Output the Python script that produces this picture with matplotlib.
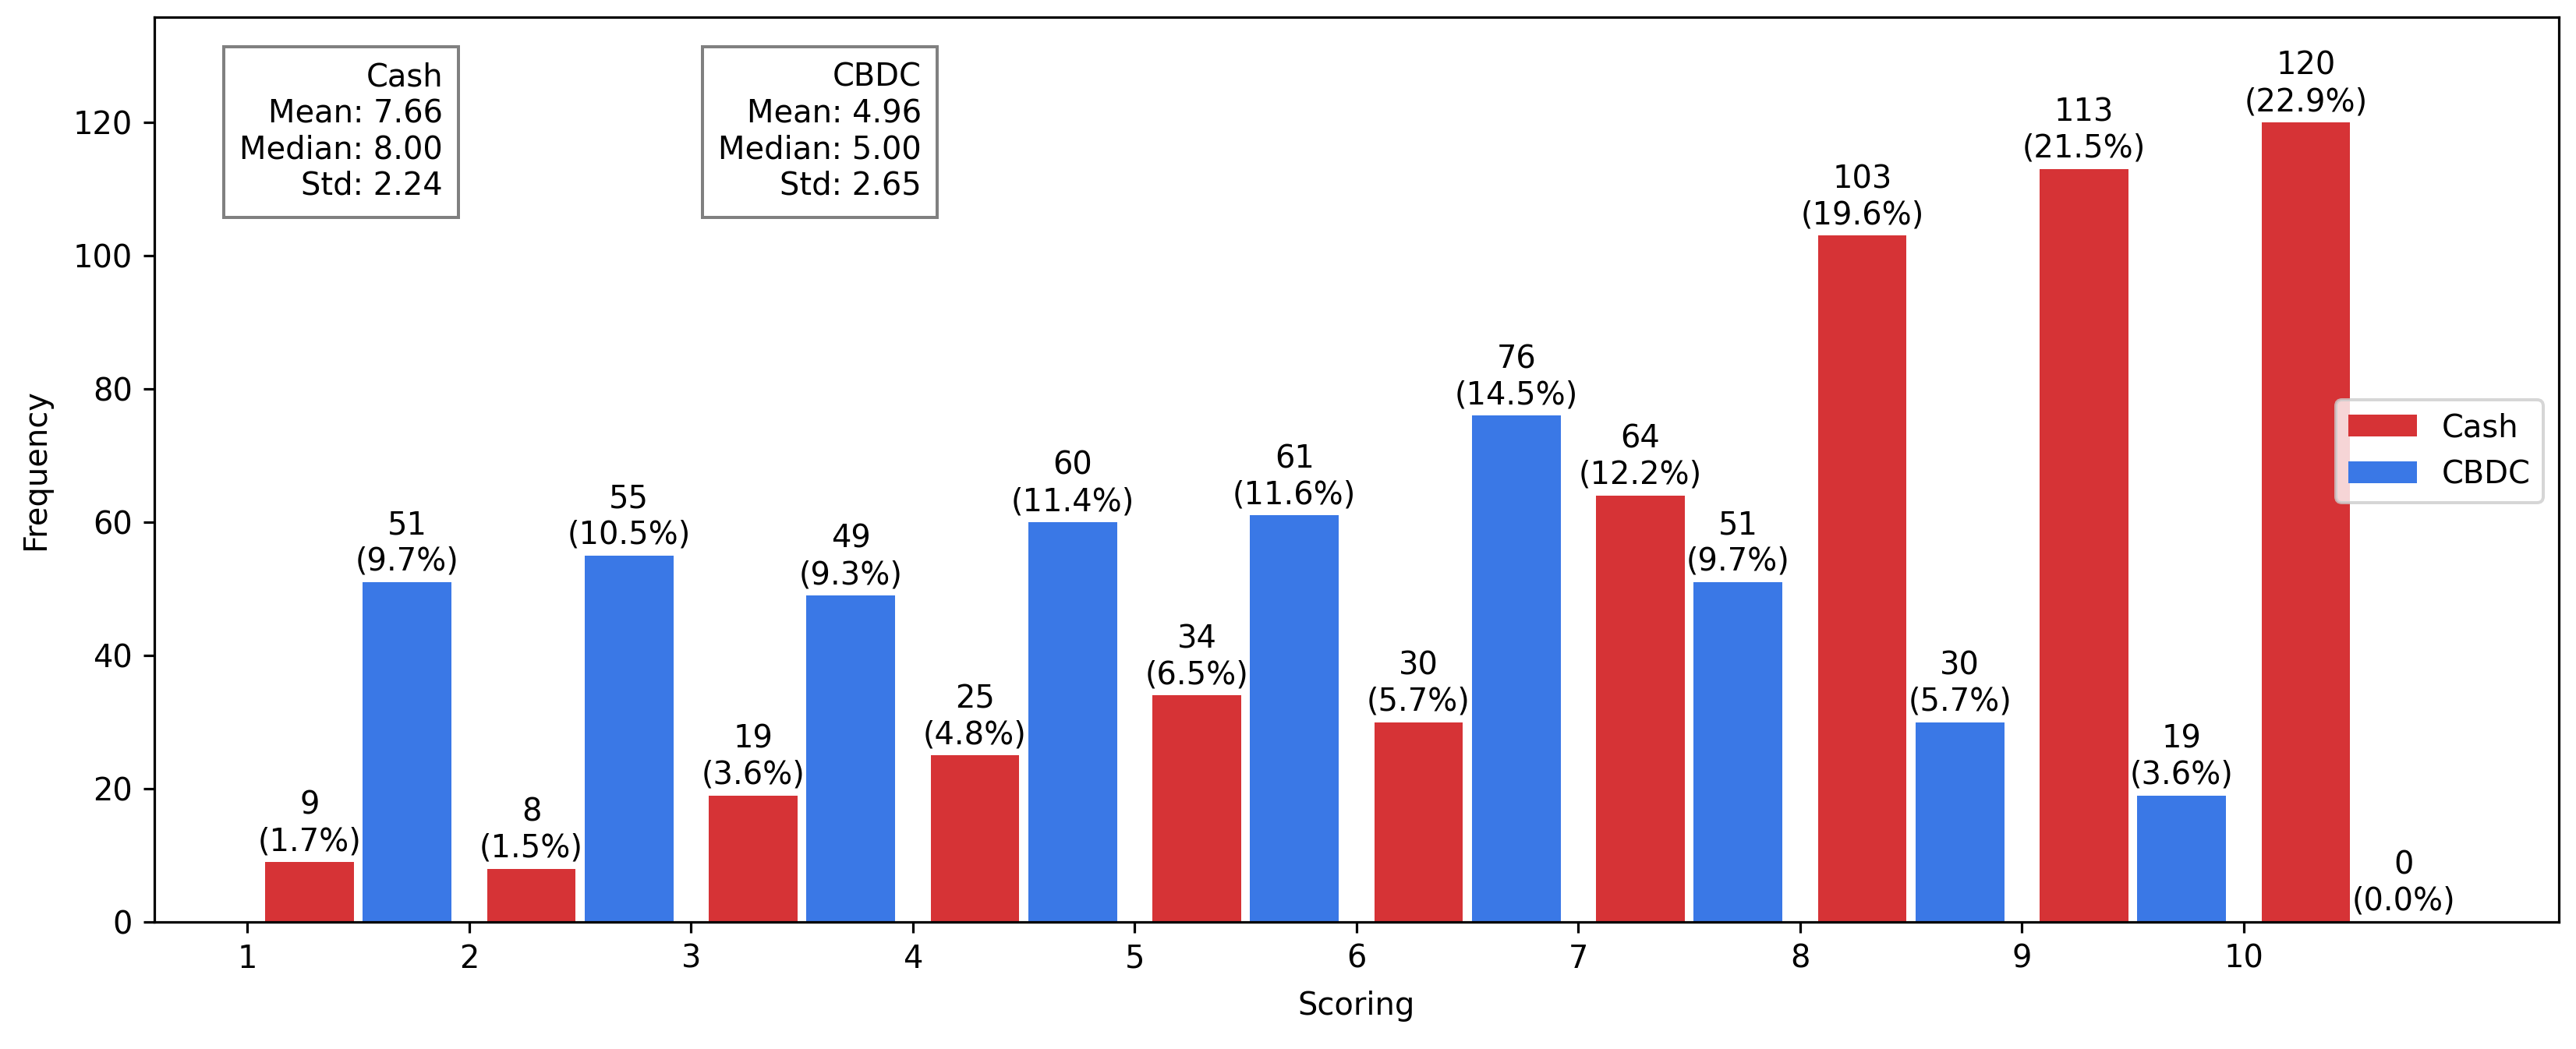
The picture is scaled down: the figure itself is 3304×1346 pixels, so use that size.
import matplotlib
matplotlib.use("Agg")
import matplotlib.pyplot as plt
import numpy as np

# Data
scores = [1, 2, 3, 4, 5, 6, 7, 8, 9, 10]
cash = [9, 8, 19, 25, 34, 30, 64, 103, 113, 120]
cbdc = [51, 55, 49, 60, 61, 76, 51, 30, 19, 0]
n_total = 525  # percentages in the labels are taken over this

cash_stats = "Cash\nMean: 7.66\nMedian: 8.00\nStd: 2.24"
cbdc_stats = "CBDC\nMean: 4.96\nMedian: 5.00\nStd: 2.65"

red = "#D63336"
blue = "#3A78E6"

# Figure base
plt.rcParams["font.family"] = ["DejaVu Sans"]
fig = plt.figure(figsize=(3304 / 288, 1346 / 288), dpi=288)
ax = fig.add_axes([0.0599, 0.1211, 0.9334, 0.8626])

x = np.array(scores)
width = 0.4
bars_cash = ax.bar(x + 0.28, cash, width, color=red, label="Cash")
bars_cbdc = ax.bar(x + 0.72, cbdc, width, color=blue, label="CBDC")

# value + percentage on top of each bar
for bars, vals in [(bars_cash, cash), (bars_cbdc, cbdc)]:
    labels = [f"{v}\n({v / n_total * 100:.1f}%)" for v in vals]
    ax.bar_label(bars, labels=labels, padding=1.5, fontsize=10)

ax.set_xticks(scores)
ax.set_xlim(0.58, 11.42)
ax.set_ylim(0, 135.8)
ax.set_yticks([0, 20, 40, 60, 80, 100, 120])
ax.set_xlabel("Scoring", labelpad=5)
ax.set_ylabel("Frequency", labelpad=7)

box = dict(boxstyle="square,pad=0.5", facecolor="white", edgecolor="gray")
ax.text(0.12, 0.95, cash_stats, transform=ax.transAxes, ha="right", va="top", bbox=box)
ax.text(0.319, 0.95, cbdc_stats, transform=ax.transAxes, ha="right", va="top", bbox=box)

ax.legend(loc="center right", bbox_to_anchor=(1, 0.52), handlelength=2.2)

fig.savefig("out.png", dpi=288)
